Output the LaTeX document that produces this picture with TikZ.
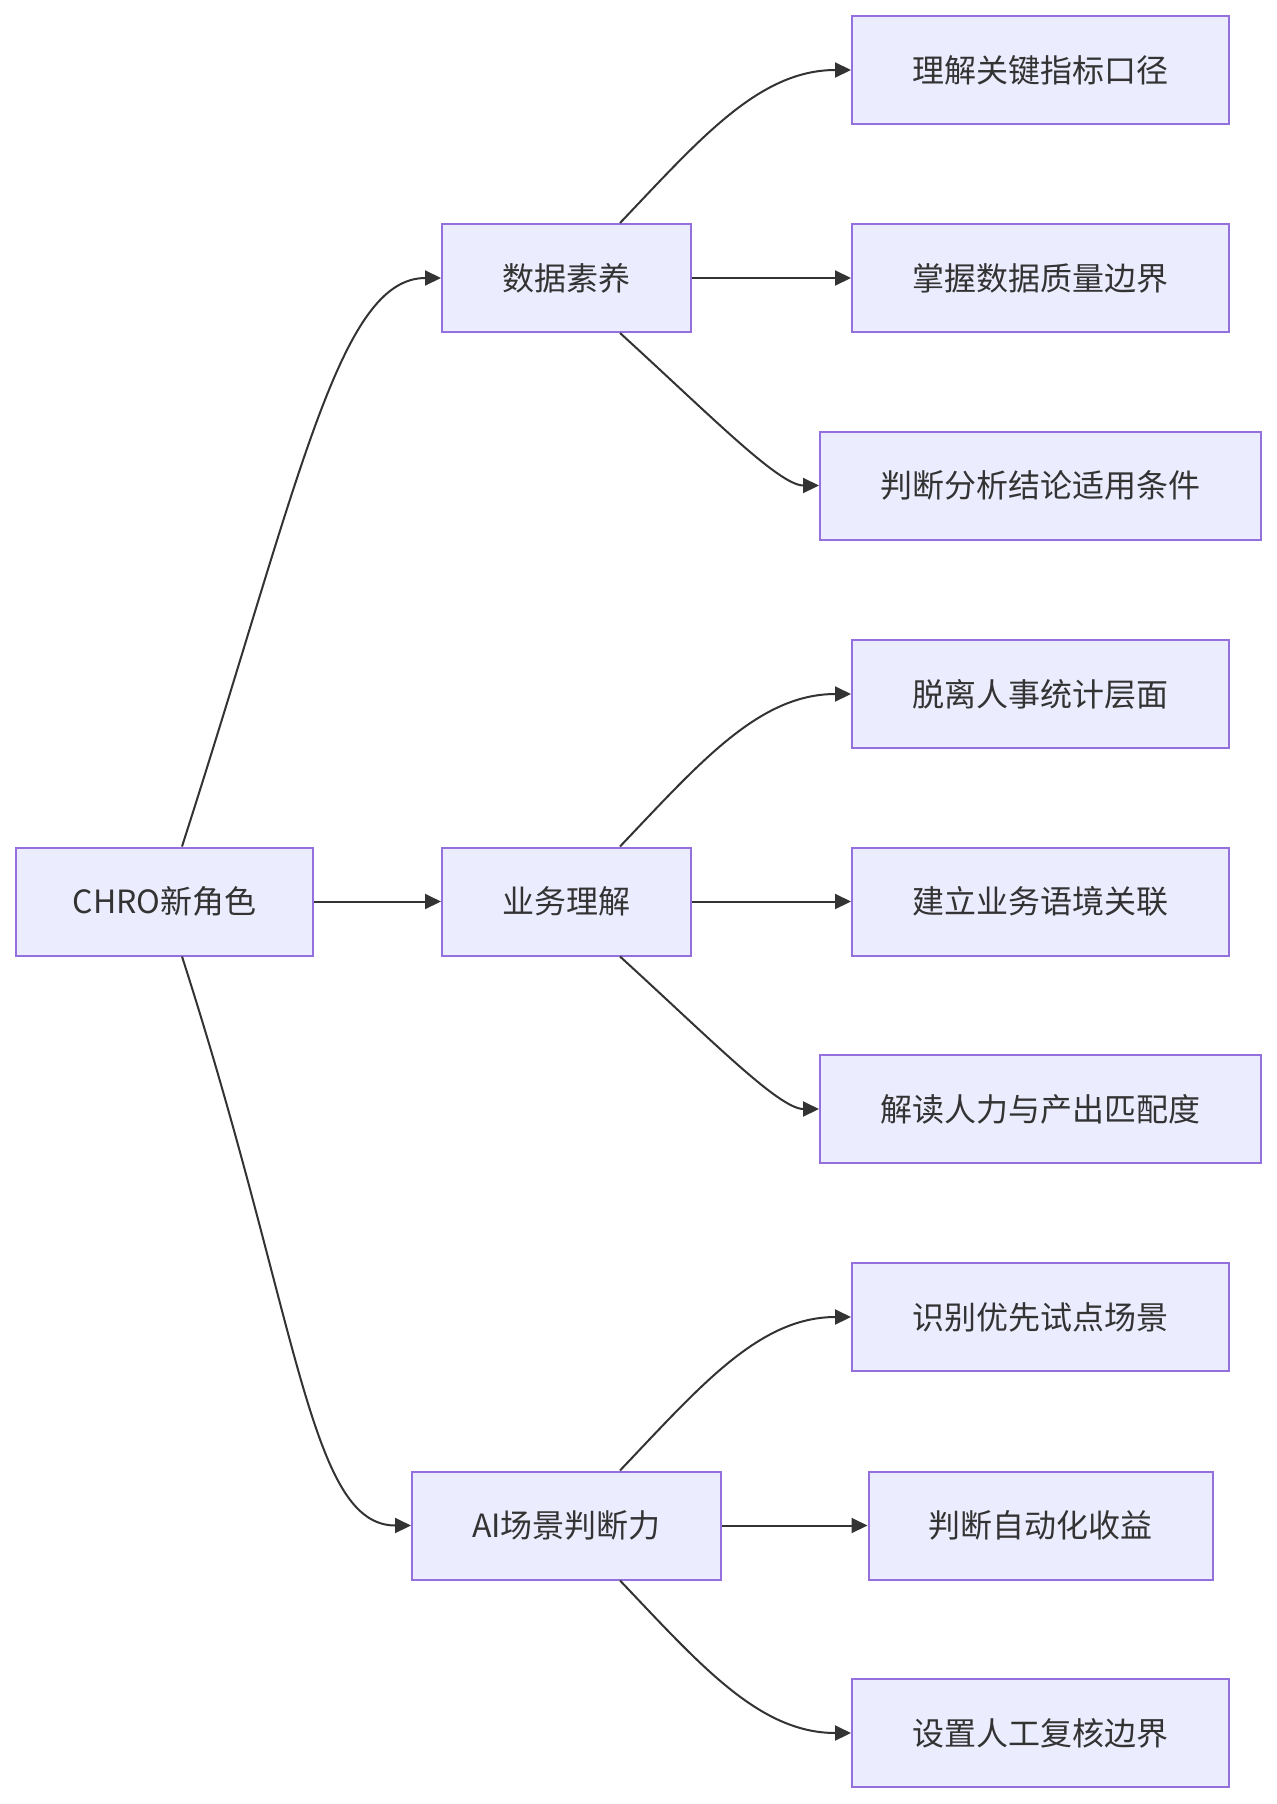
\documentclass[tikz,border=0pt]{standalone}
\usepackage{fontspec}
\setmainfont{Noto Sans CJK SC}
\usetikzlibrary{arrows.meta}
\definecolor{nodefill}{HTML}{ECECFF}
\definecolor{nodeline}{HTML}{9370DB}
\definecolor{edgecol}{HTML}{333333}
\begin{document}
\begin{tikzpicture}[x=0.5pt,y=-0.5pt,
  box/.style={draw=nodeline,fill=nodefill,line width=1pt,text=edgecol,
    font=\fontsize{16pt}{19pt}\selectfont,minimum height=54pt,inner sep=0pt},
  arr/.style={draw=edgecol,line width=1pt,-{Triangle[length=8pt,width=7.5pt]}}]
\useasboundingbox (0,0) rectangle (1276,1804);
% root
\node[box,minimum width=148.5pt] (root) at (164.5,901.5) {CHRO新角色};
% second level
\node[box,minimum width=124.5pt] (s1) at (566.5,278) {数据素养};
\node[box,minimum width=124.5pt] (s2) at (566.5,901.5) {业务理解};
\node[box,minimum width=154.5pt] (s3) at (566.5,1525.5) {AI场景判断力};
% leaves
\node[box,minimum width=188.5pt] (l1) at (1040.5,70) {理解关键指标口径};
\node[box,minimum width=188.5pt] (l2) at (1040.5,278) {掌握数据质量边界};
\node[box,minimum width=220.5pt] (l3) at (1040.5,485.5) {判断分析结论适用条件};
\node[box,minimum width=188.5pt] (l4) at (1040.5,694) {脱离人事统计层面};
\node[box,minimum width=188.5pt] (l5) at (1040.5,901.5) {建立业务语境关联};
\node[box,minimum width=220.5pt] (l6) at (1040.5,1109) {解读人力与产出匹配度};
\node[box,minimum width=188.5pt] (l7) at (1040.5,1317) {识别优先试点场景};
\node[box,minimum width=172pt] (l8) at (1040.5,1525.5) {判断自动化收益};
\node[box,minimum width=188.5pt] (l9) at (1040.5,1733) {设置人工复核边界};
% root edges
\draw[arr] ([xshift=8.75pt]root.north) .. controls +(59pt,183.5pt) and +(-51pt,0pt) .. (s1.west);
\draw[arr] (root.east) -- (s2.west);
\draw[arr] ([xshift=8.75pt]root.south) .. controls +(59pt,-183.5pt) and +(-51pt,0pt) .. (s3.west);
% second level edges
\foreach \s/\a/\b in {s1/l1/l2, s2/l4/l5, s3/l7/l8}{
  \draw[arr] ([xshift=26.75pt]\s.north) .. controls +(40pt,42pt) and +(-46pt,0pt) .. (\a.west);
  \draw[arr] (\s.east) -- (\b.west);
}
\foreach \s/\c in {s1/l3, s2/l6}{
  \draw[arr] ([xshift=26.75pt]\s.south) .. controls +(45pt,-41pt) and +(-20pt,0pt) .. (\c.west);
}
\draw[arr] ([xshift=26.75pt]s3.south) .. controls +(40pt,-42pt) and +(-46pt,0pt) .. (l9.west);
\end{tikzpicture}
\end{document}
